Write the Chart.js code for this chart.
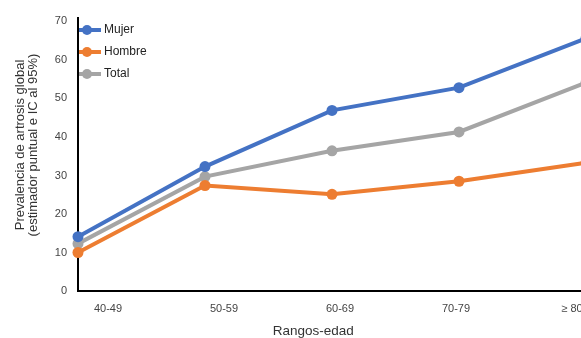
<!DOCTYPE html>
<html>
<head>
<meta charset="utf-8">
<script src="https://cdn.jsdelivr.net/npm/chart.js@4"></script>
<style>
  html, body { margin: 0; padding: 0; overflow: hidden; background: #fff; }
  #wrap { width: 600px; height: 338px; }
</style>
</head>
<body>
<div id="wrap"><canvas id="chart"></canvas></div>
<script>
const ageRanges = ['40-49', '50-59', '60-69', '70-79', '≥ 80'];
const mujer  = [14.1, 32.3, 46.9, 52.8, 65.6];
const hombre = [10.0, 27.4, 25.1, 28.5, 33.3];
const total  = [12.3, 29.7, 36.4, 41.3, 54.1];
const yTitle = ['Prevalencia de artrosis global', '(estimador puntual e IC al 95%)'];
const xTitleText = 'Rangos-edad';

const BLUE = '#4472C4';
const ORANGE = '#ED7D31';
const GRAY = '#A5A5A5';
const TEXT = '#444';
const FONT = '"Liberation Sans", Arial, sans-serif';

// little line + dot marker for the legend, like the office style
function legendMarker(color) {
    const c = document.createElement('canvas');
    c.width = 24;
    c.height = 12;
    const g = c.getContext('2d');
    g.strokeStyle = color;
    g.lineWidth = 4;
    g.beginPath();
    g.moveTo(0, 6);
    g.lineTo(24, 6);
    g.stroke();
    g.fillStyle = color;
    g.beginPath();
    g.arc(10, 6, 5, 0, Math.PI * 2);
    g.fill();
    return c;
}

function series(label, data, color) {
    return {
        label: label,
        data: data,
        borderColor: color,
        backgroundColor: color,
        borderWidth: 4,
        pointRadius: 5.5,
        pointHoverRadius: 5.5,
        pointBackgroundColor: color,
        pointBorderWidth: 0,
        pointStyle: 'circle',
        legendMarker: legendMarker(color),
        tension: 0,
        xAxisID: 'x',
        clip: false
    };
}

// axis titles are drawn by hand, the original has them off-centre
const axisTitles = {
    id: 'axisTitles',
    afterLayout(chart) {
        // legend sits tight against the y axis
        chart.legend.left -= 8;
        chart.legend.top += 14;
    },
    afterDraw(chart) {
        const ctx = chart.ctx;
        const sx = chart.scales.x2;
        ctx.save();
        ctx.fillStyle = '#333';
        ctx.textAlign = 'center';
        ctx.textBaseline = 'middle';
        ctx.font = '13.5px ' + FONT;
        ctx.fillText(xTitleText, sx.getPixelForValue(1.77), 331);

        ctx.font = '13px ' + FONT;
        ctx.translate(0, 145);
        ctx.rotate(-Math.PI / 2);
        ctx.fillText(yTitle[0], 0, 20);
        ctx.fillText(yTitle[1], 0, 33.5);
        ctx.restore();
    }
};

new Chart(document.getElementById('chart').getContext('2d'), {
    type: 'line',
    data: {
        labels: ageRanges,
        datasets: [
            series('Mujer', mujer, BLUE),
            series('Hombre', hombre, ORANGE),
            series('Total', total, GRAY)
        ]
    },
    options: {
        responsive: true,
        maintainAspectRatio: false,
        animation: false,
        layout: { padding: { left: 0, right: 14, top: 14, bottom: 0 } },
        plugins: {
            tooltip: { enabled: false },
            legend: {
                position: 'chartArea',
                align: 'start',
                labels: {
                    usePointStyle: true,
                    pointStyleWidth: 18,
                    padding: 10,
                    color: '#222',
                    font: { family: FONT, size: 12 },
                    generateLabels(chart) {
                        return chart.data.datasets.map((ds, i) => ({
                            text: ds.label,
                            pointStyle: ds.legendMarker,
                            fillStyle: ds.borderColor,
                            strokeStyle: ds.borderColor,
                            lineWidth: 0,
                            fontColor: '#222',
                            hidden: false,
                            datasetIndex: i
                        }));
                    }
                }
            }
        },
        scales: {
            x: {
                type: 'category',
                offset: false,
                grid: { display: false, drawTicks: false },
                border: { display: true, color: '#000', width: 2 },
                ticks: { display: false },
                afterFit(s) { s.height = 0; }
            },
            x2: {
                type: 'linear',
                position: 'bottom',
                min: -0.259,
                max: 4.121,
                grid: { display: false, drawTicks: false },
                border: { display: false },
                ticks: {
                    stepSize: 1,
                    includeBounds: false,
                    padding: 11,
                    color: TEXT,
                    font: { family: FONT, size: 11 },
                    maxRotation: 0,
                    callback: v => ageRanges[v] !== undefined ? ageRanges[v] : ''
                },
                afterFit(s) { s.height = 47; }
            },
            y: {
                min: 0,
                max: 71,
                grid: { display: false, drawTicks: false },
                border: { display: true, color: '#000', width: 2 },
                ticks: {
                    stepSize: 10,
                    includeBounds: false,
                    padding: 11,
                    color: TEXT,
                    font: { family: FONT, size: 11 }
                },
                afterFit(s) { s.width = 78; }
            }
        }
    },
    plugins: [axisTitles]
});
</script>
</body>
</html>
